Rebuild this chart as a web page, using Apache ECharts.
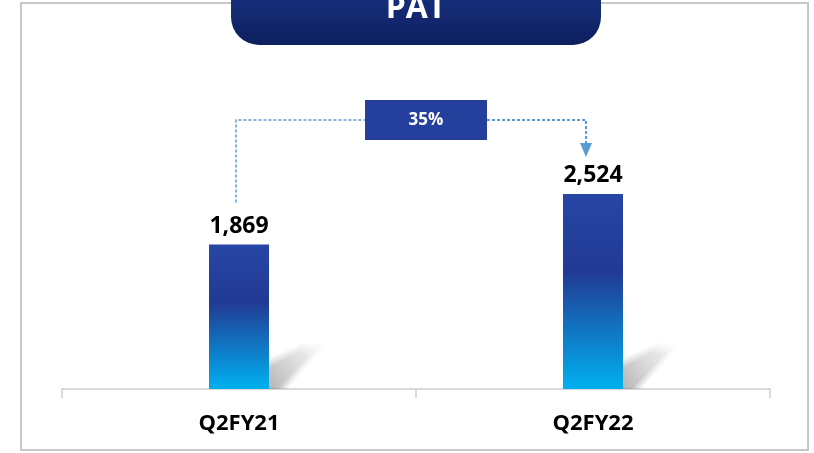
<!DOCTYPE html>
<html>
<head>
<meta charset="utf-8">
<script src="https://cdn.jsdelivr.net/npm/echarts@6/dist/echarts.min.js"></script>
<style>
  html, body { margin: 0; padding: 0; background: #fff; }
  #app { width: 814px; height: 453px; }
</style>
</head>
<body>
<div id="app"></div>
<script>
const categories = ['Q2FY21', 'Q2FY22'];
const values = [1869, 2524];
const title = 'PAT';

const myChart = echarts.init(document.getElementById('app'));
const FONT = '"Open Sans", "Liberation Sans", sans-serif';

const growth = Math.round((values[1] / values[0] - 1) * 100) + '%';

const barColor = new echarts.graphic.LinearGradient(0, 0, 0, 1, [
  { offset: 0, color: '#2846a6' },
  { offset: 0.4, color: '#213a94' },
  { offset: 0.62, color: '#1566b6' },
  { offset: 1, color: '#00b0f0' }
]);

// soft shadow cast to the right of each bar foot
const renderShadow = (params, api) => {
  const base = api.coord([api.value(0), 0]);
  const xr = base[0] + 26;
  const y = base[1];
  const layers = [];
  // stacked translucent layers to fake a blur
  [[0, 0.08], [3, 0.10], [6, 0.12], [9, 0.14]].forEach(([s, a]) => {
    layers.push({
      type: 'polygon',
      shape: {
        points: [
          [xr - 2, y], [xr - 2, y - 28 + s], [xr + 38 - s * 0.5, y - 46 + s],
          [xr + 60 - s * 1.6, y - 44 + s], [xr + 22 - s, y]
        ]
      },
      style: {
        fill: new echarts.graphic.LinearGradient(0, 1, 1, 0, [
          { offset: 0, color: `rgba(110,110,110,${a * 1.6})` },
          { offset: 1, color: `rgba(170,170,170,${a * 0.4})` }
        ])
      }
    });
  });
  return { type: 'group', children: layers };
};

const option = {
  animation: false,
  grid: { left: 62, right: 44, top: 80, bottom: 64 },
  xAxis: {
    type: 'category',
    data: categories,
    axisLine: { lineStyle: { color: '#d9d9d9', width: 2 } },
    axisTick: { show: true, length: 9, lineStyle: { color: '#d9d9d9', width: 2 } },
    axisLabel: {
      color: '#000', fontFamily: FONT, fontWeight: 'bold', fontSize: 22, margin: 24
    }
  },
  yAxis: { type: 'value', min: 0, max: 4000, show: false, splitLine: { show: false } },
  series: [
    {
      type: 'bar',
      data: values,
      barWidth: 60,
      z: 3,
      itemStyle: { color: barColor },
      label: {
        show: true, position: 'top', distance: 7,
        color: '#000', fontFamily: FONT, fontWeight: 'bold', fontSize: 23,
        formatter: p => p.value.toLocaleString('en-US')
      }
    },
    {
      type: 'custom',
      data: values.map((v, i) => [i, v]),
      renderItem: renderShadow,
      z: 1,
      silent: true
    }
  ]
};

myChart.setOption(option);

// connector with growth box, positioned from the bar coordinates
const p1 = myChart.convertToPixel({ seriesIndex: 0 }, [0, values[0]]);
const p2 = myChart.convertToPixel({ seriesIndex: 0 }, [1, values[1]]);
const lineY = p2[1] - 74;
const xL = p1[0] - 3;
const xR = p2[0] - 7;
const boxCx = (p1[0] + p2[0]) / 2 + 10;
const dash = { stroke: '#5b9bd5', lineWidth: 1.5, lineDash: [3, 2] };

myChart.setOption({
  graphic: [
    {
      type: 'rect', z: 0,
      shape: { x: 21, y: 3, width: 787, height: 447 },
      style: { fill: 'none', stroke: '#c8c8c8', lineWidth: 2 }
    },
    {
      type: 'rect', z: 10,
      shape: { x: 231, y: -40, width: 370, height: 85, r: 28 },
      style: {
        fill: new echarts.graphic.LinearGradient(0, 0, 0, 1, [
          { offset: 0, color: '#1d3a96' },
          { offset: 1, color: '#0d1f5c' }
        ])
      }
    },
    {
      type: 'text', z: 11,
      x: 416, y: 9,
      style: {
        text: title, fill: '#fff', font: 'bold 32px ' + FONT,
        textAlign: 'center', textVerticalAlign: 'middle'
      }
    },
    {
      type: 'polyline', z: 5,
      shape: { points: [[xL, p1[1] - 42], [xL, lineY], [boxCx - 61, lineY]] },
      style: Object.assign({ fill: 'none' }, dash)
    },
    {
      type: 'polyline', z: 5,
      shape: { points: [[boxCx + 61, lineY], [xR, lineY], [xR, p2[1] - 50]] },
      style: Object.assign({ fill: 'none' }, dash, { lineWidth: 2 })
    },
    {
      type: 'polygon', z: 5,
      shape: { points: [[xR - 6, p2[1] - 51], [xR + 6, p2[1] - 51], [xR, p2[1] - 37]] },
      style: { fill: '#5b9bd5' }
    },
    {
      type: 'rect', z: 6,
      shape: { x: boxCx - 61, y: lineY - 20, width: 122, height: 40 },
      style: { fill: '#253f9c' }
    },
    {
      type: 'text', z: 7,
      x: boxCx, y: lineY,
      style: {
        text: growth, fill: '#fff', font: 'bold 17px ' + FONT,
        textAlign: 'center', textVerticalAlign: 'middle'
      }
    }
  ]
});
</script>
</body>
</html>
